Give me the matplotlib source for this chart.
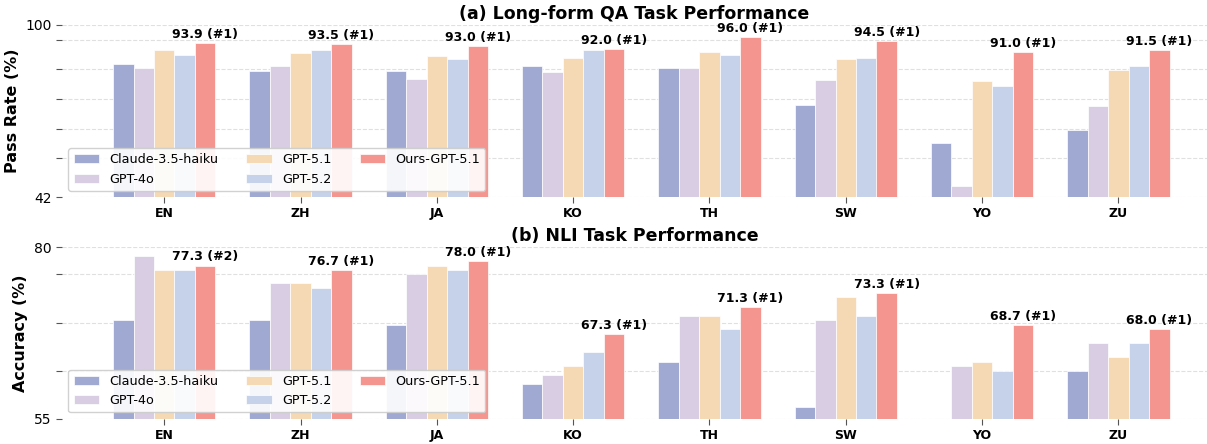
import numpy as np
import matplotlib
matplotlib.use("Agg")
import matplotlib.pyplot as plt

languages = ["EN", "ZH", "JA", "KO", "TH", "SW", "YO", "ZU"]
models = ["Claude-3.5-haiku", "GPT-4o", "GPT-5.1", "GPT-5.2", "Ours-GPT-5.1"]
colors = ["#9FA9D2", "#D9CDE4", "#F5D9B4", "#C5D2E9", "#F4968F"]

qa_claude = [87.0, 84.6, 84.6, 86.1, 85.6, 73.0, 60.1, 64.6]
qa_gpt4o = [85.5, 86.1, 81.9, 84.2, 85.6, 81.5, 45.7, 72.6]
qa_gpt51 = [91.6, 90.6, 89.5, 89.0, 90.9, 88.5, 81.1, 84.9]
qa_gpt52 = [90.0, 91.6, 88.4, 91.6, 90.0, 89.0, 79.5, 86.1]
qa_ours = [93.9, 93.5, 93.0, 92.0, 96.0, 94.5, 91.0, 91.5]

nli_claude = [69.3, 69.3, 68.7, 60.0, 63.3, 56.7, 52.0, 62.0]
nli_gpt4o = [78.7, 74.7, 76.0, 61.3, 70.0, 69.3, 62.7, 66.0]
nli_gpt51 = [76.7, 74.7, 77.3, 62.7, 70.0, 72.7, 63.3, 64.0]
nli_gpt52 = [76.7, 74.0, 76.7, 64.7, 68.0, 70.0, 62.0, 66.0]
nli_ours = [77.3, 76.7, 78.0, 67.3, 71.3, 73.3, 68.7, 68.0]

qa_yticks = [42, 55, 65, 75, 85, 95, 100]
nli_yticks = [55, 62, 69, 76, 80]

panels = [
    ("(a) Long-form QA Task Performance", "Pass Rate (%)",
     [qa_claude, qa_gpt4o, qa_gpt51, qa_gpt52, qa_ours], (42, 100), qa_yticks),
    ("(b) NLI Task Performance", "Accuracy (%)",
     [nli_claude, nli_gpt4o, nli_gpt51, nli_gpt52, nli_ours], (55, 80), nli_yticks),
]

fig = plt.figure(figsize=(12.07, 4.44), dpi=100)
ax_rects = [[62/1207, 1-197/444, 1-62/1207, 172/444],
            [62/1207, 1-418.7/444, 1-62/1207, 171.7/444]]

x = np.arange(len(languages))
width = 0.15

for rect, (title, ylabel, series, ylim, yticks) in zip(ax_rects, panels):
    ax = fig.add_axes(rect)
    for i, (name, vals, c) in enumerate(zip(models, series, colors)):
        ax.bar(x + (i - 2) * width, vals, width, color=c, label=name,
               edgecolor="white", linewidth=0.5, zorder=2)
    ours = np.array(series[-1])
    all_vals = np.array(series)
    for j in range(len(languages)):
        rank = int(np.sum(all_vals[:, j] > ours[j])) + 1
        ax.annotate(f"{ours[j]:.1f} (#{rank})", (x[j] + 2 * width, ours[j]),
                    xytext=(0, 1.5), textcoords="offset points",
                    ha="center", va="bottom", fontsize=9, fontweight="bold")
    ax.set_xlim(-0.75, 7.65)
    ax.set_ylim(*ylim)
    ax.set_yticks(yticks)
    ax.set_yticklabels([str(t) if t in (ylim[0], ylim[1]) else "" for t in yticks],
                       fontsize=10)
    ax.set_xticks(x)
    ax.set_xticklabels(languages, fontsize=9, fontweight="bold")
    ax.tick_params(axis="both", length=4, color="#555555", width=0.8)
    ax.grid(axis="y", linestyle="--", color="#E0E0E0", linewidth=0.8, zorder=0)
    for s in ax.spines.values():
        s.set_visible(False)
    ax.set_ylabel(ylabel, fontsize=11.5, fontweight="bold")
    ax.set_title(title, fontsize=12.5, fontweight="bold", pad=4)
    ax.legend(loc="lower left", ncol=3, fontsize=9.2, framealpha=0.9,
              edgecolor="#CCCCCC", columnspacing=2.2)

fig.savefig("out.png", dpi=100)
